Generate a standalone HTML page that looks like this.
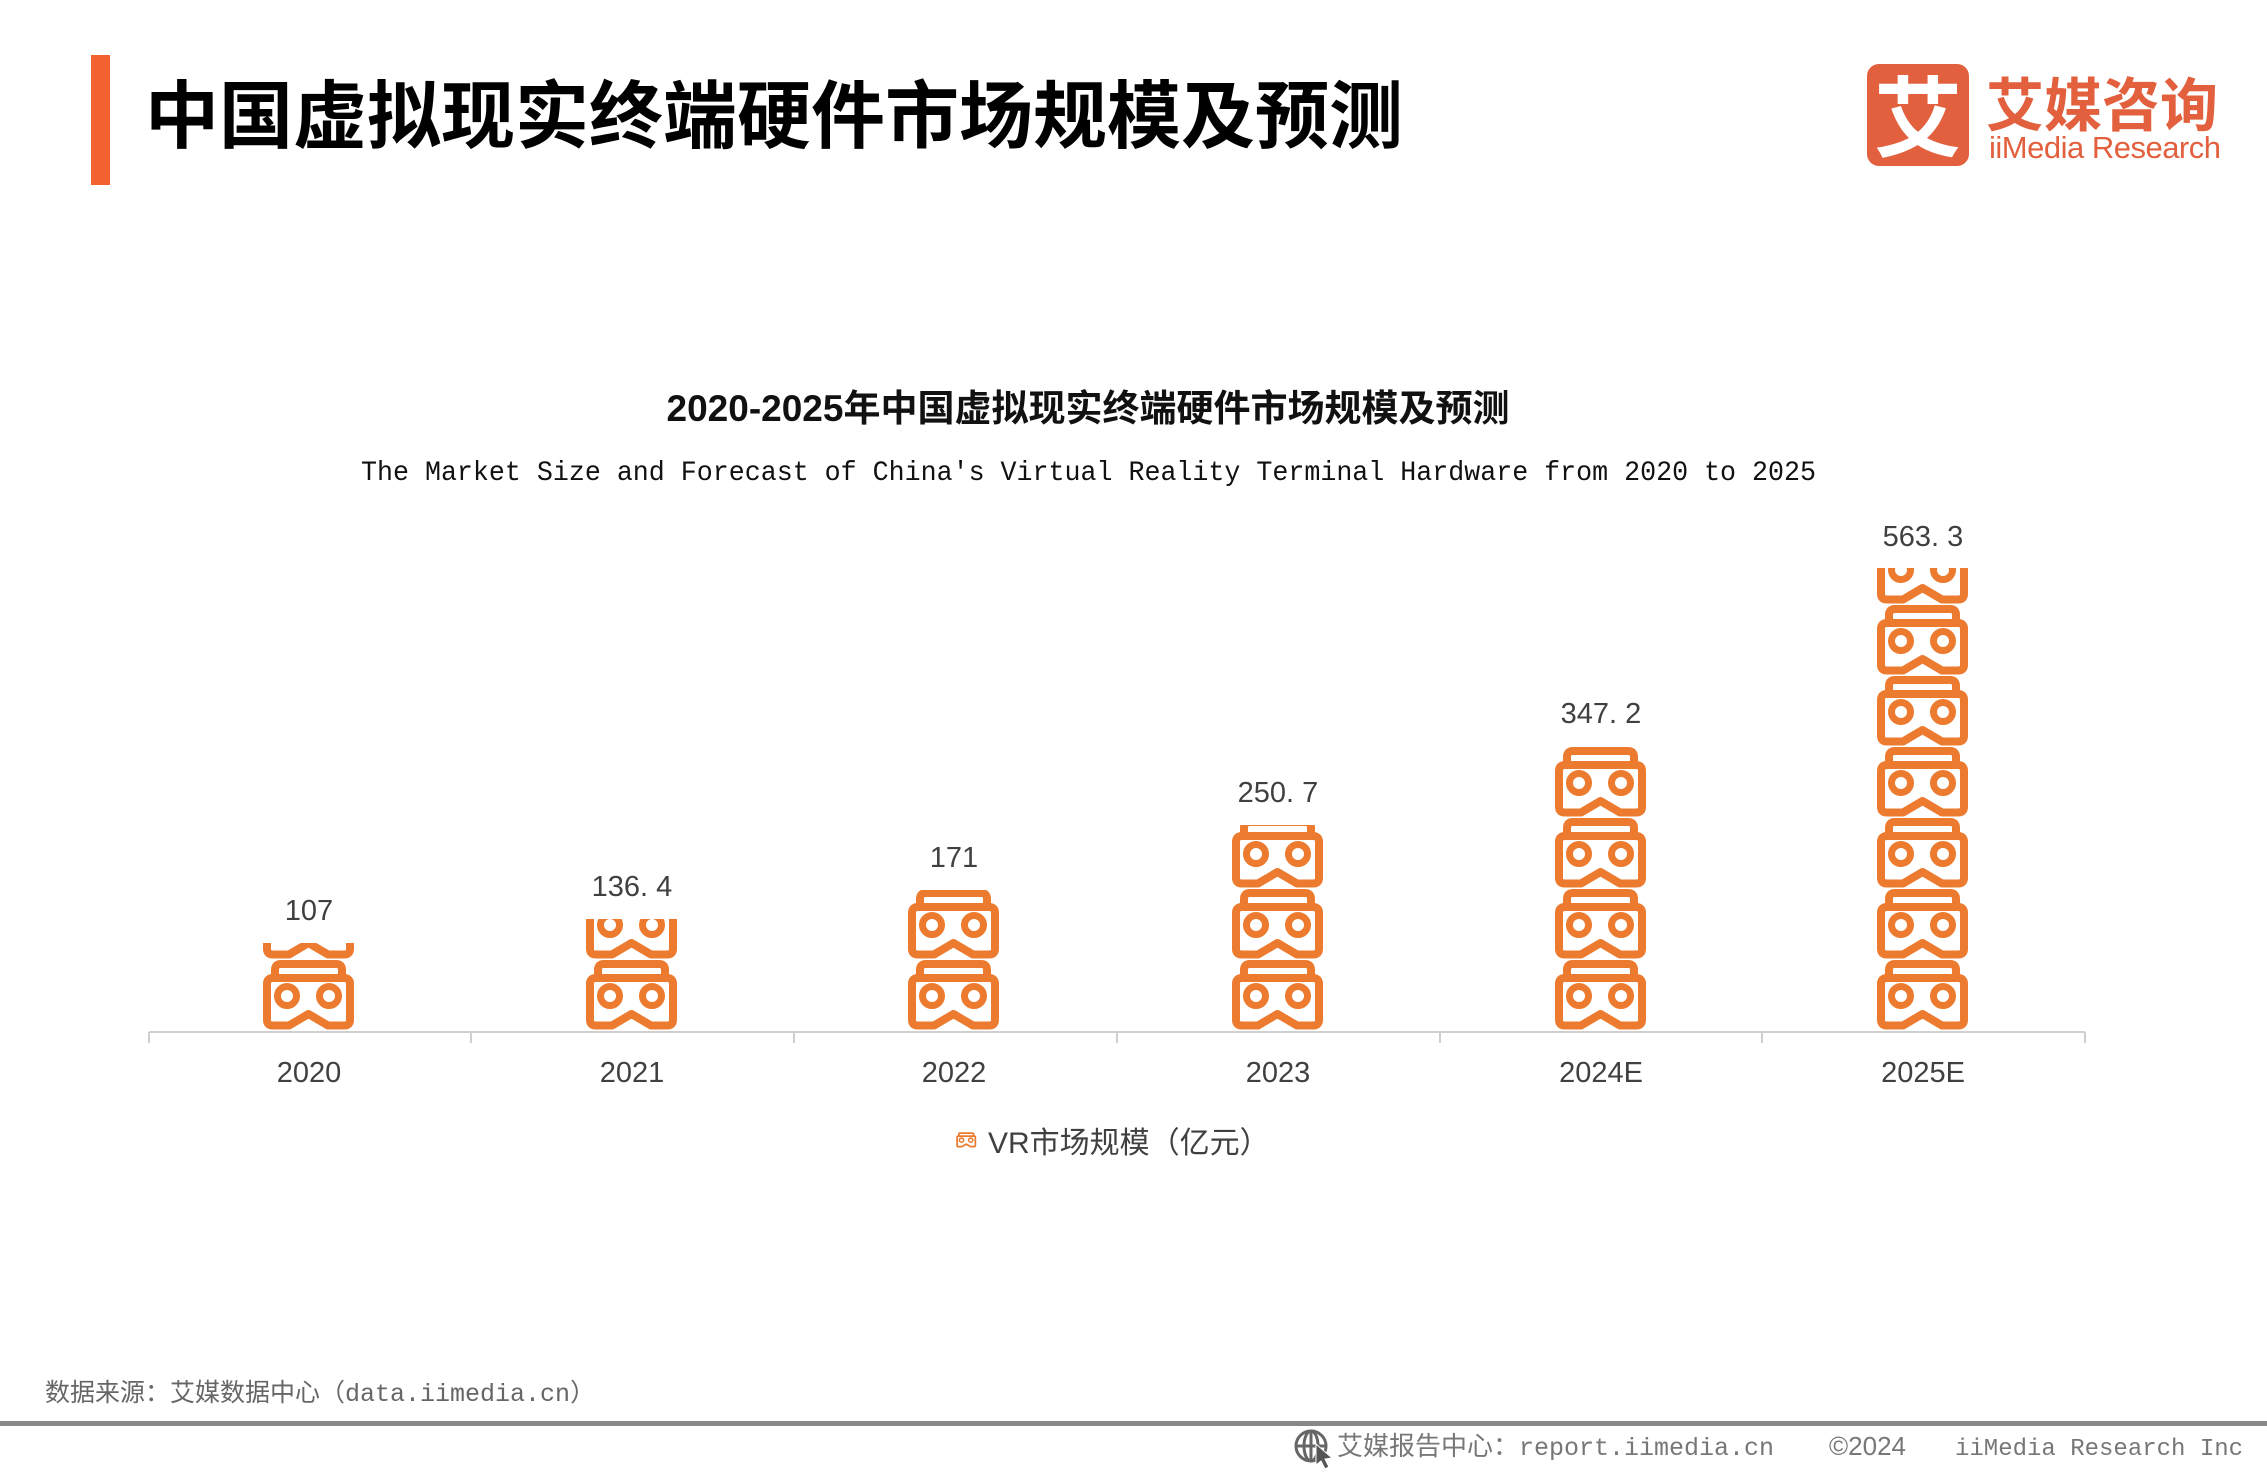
<!DOCTYPE html>
<html><head><meta charset="utf-8"><style>
html,body{margin:0;padding:0;background:#fff;}
body{width:2267px;height:1474px;overflow:hidden;}
</style></head><body>
<svg width="2267" height="1474" viewBox="0 0 2267 1474" xmlns="http://www.w3.org/2000/svg">
<defs>
<g id="vr">
  <path d="M13,18 V11 Q13,5 19,5 H74 Q80,5 80,11 V18" fill="none" stroke="#EC7B30" stroke-width="8" stroke-linejoin="round"/>
  <path d="M5,25 Q5,19 11,19 H82 Q88,19 88,25 V61 Q88,66.5 82,66.5 H66 L46.5,55 L27,66.5 H11 Q5,66.5 5,61 Z" fill="none" stroke="#EC7B30" stroke-width="8" stroke-linejoin="round"/>
  <circle cx="25" cy="37" r="9.5" fill="none" stroke="#EC7B30" stroke-width="7"/>
  <circle cx="67" cy="37" r="9.5" fill="none" stroke="#EC7B30" stroke-width="7"/>
</g>
<g id="stack">
  <use href="#vr" y="-71"/><use href="#vr" y="-142"/><use href="#vr" y="-213"/><use href="#vr" y="-284"/><use href="#vr" y="-355"/><use href="#vr" y="-426"/><use href="#vr" y="-497"/>
</g>
<clipPath id="c0"><rect x="0" y="943" width="2267" height="100"/></clipPath>
<clipPath id="c1"><rect x="0" y="919" width="2267" height="130"/></clipPath>
<clipPath id="c2"><rect x="0" y="890" width="2267" height="160"/></clipPath>
<clipPath id="c3"><rect x="0" y="825" width="2267" height="220"/></clipPath>
<clipPath id="c4"><rect x="0" y="746" width="2267" height="300"/></clipPath>
<clipPath id="c5"><rect x="0" y="568" width="2267" height="480"/></clipPath>
</defs>

<rect x="91" y="55" width="19" height="130" fill="#F2612F"/>
<text x="145" y="142" font-family="Liberation Sans, Noto Sans CJK SC, sans-serif" font-weight="bold" font-size="74" fill="#000">中国虚拟现实终端硬件市场规模及预测</text>

<rect x="1867" y="64" width="102" height="102" rx="12" fill="#E2603E"/>
<text x="1918" y="150" text-anchor="middle" font-family="Noto Sans CJK SC, sans-serif" font-weight="bold" font-size="88" fill="#fff">艾</text>
<text x="1986" y="126" font-family="Noto Sans CJK SC, sans-serif" font-weight="bold" font-size="58" fill="#E2603E">艾媒咨询</text>
<text x="1989" y="158" font-family="Liberation Sans, sans-serif" font-size="31" fill="#E2603E" textLength="232">iiMedia Research</text>

<text x="1088" y="421" text-anchor="middle" font-family="Liberation Sans, Noto Sans CJK SC, sans-serif" font-weight="bold" font-size="37" fill="#111">2020-2025年中国虚拟现实终端硬件市场规模及预测</text>
<text x="361" y="480" font-family="Liberation Mono, monospace" font-size="28" fill="#111" textLength="1455" lengthAdjust="spacingAndGlyphs">The Market Size and Forecast of China's Virtual Reality Terminal Hardware from 2020 to 2025</text>

<g clip-path="url(#c0)"><use href="#stack" x="262" y="1030"/></g>
<g clip-path="url(#c1)"><use href="#stack" x="585" y="1030"/></g>
<g clip-path="url(#c2)"><use href="#stack" x="907" y="1030"/></g>
<g clip-path="url(#c3)"><use href="#stack" x="1231" y="1030"/></g>
<g clip-path="url(#c4)"><use href="#stack" x="1554" y="1030"/></g>
<g clip-path="url(#c5)"><use href="#stack" x="1876" y="1030"/></g>

<g font-family="Liberation Sans, sans-serif" font-size="29" fill="#404040" text-anchor="middle">
<text x="309" y="920">107</text>
<text x="632" y="896">136. 4</text>
<text x="954" y="867">171</text>
<text x="1278" y="802">250. 7</text>
<text x="1601" y="723">347. 2</text>
<text x="1923" y="546">563. 3</text>
<text x="309" y="1082">2020</text>
<text x="632" y="1082">2021</text>
<text x="954" y="1082">2022</text>
<text x="1278" y="1082">2023</text>
<text x="1601" y="1082">2024E</text>
<text x="1923" y="1082">2025E</text>
</g>

<g stroke="#cfcfcf" stroke-width="2" fill="none">
<line x1="149" y1="1032" x2="2085" y2="1032"/>
<line x1="149" y1="1032" x2="149" y2="1043"/>
<line x1="471" y1="1032" x2="471" y2="1043"/>
<line x1="794" y1="1032" x2="794" y2="1043"/>
<line x1="1117" y1="1032" x2="1117" y2="1043"/>
<line x1="1440" y1="1032" x2="1440" y2="1043"/>
<line x1="1762" y1="1032" x2="1762" y2="1043"/>
<line x1="2085" y1="1032" x2="2085" y2="1043"/>
</g>

<use href="#vr" transform="translate(956,1132) scale(0.22)"/>
<text x="988" y="1153" font-family="Liberation Sans, Noto Sans CJK SC, sans-serif" font-size="30" fill="#404040">VR市场规模（亿元）</text>

<text x="45" y="1401" font-family="Noto Sans CJK SC, sans-serif" font-size="25" fill="#666">数据来源：艾媒数据中心（<tspan font-family="Liberation Mono, monospace">data.iimedia.cn</tspan>）</text>
<rect x="0" y="1421" width="2267" height="5" fill="#888"/>
<g fill="none" stroke="#666" stroke-width="3">
<circle cx="1311" cy="1446" r="15"/>
<line x1="1296" y1="1446" x2="1326" y2="1446"/>
<line x1="1311" y1="1431" x2="1311" y2="1461"/>
<ellipse cx="1311" cy="1446" rx="7" ry="15"/>
</g>
<path d="M1316,1444 L1332,1458 L1325,1459 L1329,1467 L1325,1469 L1321,1461 L1316,1465 Z" fill="#555" stroke="#fff" stroke-width="1"/>
<text x="1337" y="1455" font-family="Noto Sans CJK SC, sans-serif" font-size="26" fill="#777">艾媒报告中心：<tspan font-family="Liberation Mono, monospace" font-size="25">report.iimedia.cn</tspan></text>
<text x="1829" y="1455" font-family="Liberation Sans, sans-serif" font-size="26" fill="#777">©2024</text>
<text x="1955" y="1455" font-family="Liberation Mono, monospace" font-size="24" fill="#777">iiMedia Research Inc</text>
</svg>
</body></html>
